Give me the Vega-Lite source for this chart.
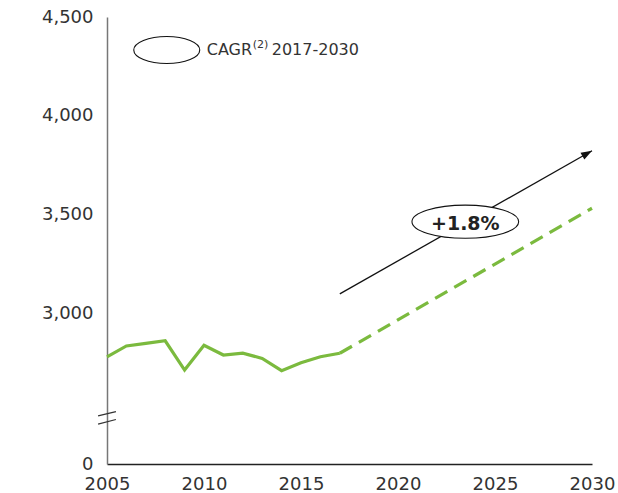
{
  "$schema": "https://vega.github.io/schema/vega-lite/v6.json",
  "autosize": "none",
  "width": 485,
  "height": 447,
  "padding": {"left": 107, "top": 17, "right": 26, "bottom": 29},
  "config": {"view": {"stroke": null}, "font": "DejaVu Sans"},
  "datasets": {
    "series": [
      {"year": 2005, "value": 2782, "type": "actual"},
      {"year": 2006, "value": 2837, "type": "actual"},
      {"year": 2007, "value": 2850, "type": "actual"},
      {"year": 2008, "value": 2863, "type": "actual"},
      {"year": 2009, "value": 2715, "type": "actual"},
      {"year": 2010, "value": 2840, "type": "actual"},
      {"year": 2011, "value": 2791, "type": "actual"},
      {"year": 2012, "value": 2800, "type": "actual"},
      {"year": 2013, "value": 2774, "type": "actual"},
      {"year": 2014, "value": 2712, "type": "actual"},
      {"year": 2015, "value": 2752, "type": "actual"},
      {"year": 2016, "value": 2782, "type": "actual"},
      {"year": 2017, "value": 2800, "type": "actual"},
      {"year": 2017, "value": 2800, "type": "forecast"},
      {"year": 2030, "value": 3533, "type": "forecast"}
    ],
    "arrow": [{"x": 2017, "y": 3100, "x2": 2030, "y2": 3824}],
    "breaks": [
      {"x": 2004.54, "y": 2483, "x2": 2005.46, "y2": 2505},
      {"x": 2004.54, "y": 2442, "x2": 2005.46, "y2": 2465}
    ],
    "labels": [
      {"x": 2023.47, "y": 3465, "kind": "cagr", "text": "+1.8%"},
      {"x": 2008.08, "y": 4333, "kind": "legend", "text": "CAGR"},
      {"x": 2008.08, "y": 4333, "kind": "sup", "text": "(2)"},
      {"x": 2008.08, "y": 4333, "kind": "period", "text": "2017-2030"}
    ]
  },
  "layer": [
    {
      "data": {"name": "series"},
      "transform": [{"filter": "datum.type == 'actual'"}],
      "mark": {"type": "line", "color": "#7bba3e", "strokeWidth": 3.2, "strokeJoin": "miter"},
      "encoding": {
        "x": {"field": "year", "type": "quantitative",
          "scale": {"domain": [2005, 2030], "nice": false, "zero": false},
          "axis": {"title": null, "values": [2005, 2010, 2015, 2020, 2025, 2030], "format": "d",
            "ticks": false, "grid": false, "labelFlush": false, "labelOverlap": false,
            "labelFontSize": 18, "labelColor": "#333333", "labelPadding": 11,
            "domainColor": "#222222", "domainWidth": 1.6}},
        "y": {"field": "value", "type": "quantitative",
          "scale": {"domain": [2240, 4500], "nice": false, "zero": false},
          "axis": {"title": null, "values": [2240, 3000, 3500, 4000, 4500],
            "labelExpr": "datum.value == 2240 ? '0' : format(datum.value, ',')",
            "ticks": false, "grid": false, "labelOverlap": false, "labelFlush": false,
            "labelFontSize": 18, "labelColor": "#333333", "labelPadding": 14,
            "domainColor": "#777777", "domainWidth": 1.5}}
      }
    },
    {
      "data": {"name": "series"},
      "transform": [{"filter": "datum.type == 'forecast'"}],
      "mark": {"type": "line", "color": "#7bba3e", "strokeWidth": 3.2, "strokeDash": [14, 8]},
      "encoding": {
        "x": {"field": "year", "type": "quantitative"},
        "y": {"field": "value", "type": "quantitative"}
      }
    },
    {
      "data": {"name": "breaks"},
      "mark": {"type": "rule", "color": "#333333", "strokeWidth": 1.2},
      "encoding": {
        "x": {"field": "x", "type": "quantitative"},
        "y": {"field": "y", "type": "quantitative"},
        "x2": {"field": "x2"},
        "y2": {"field": "y2"}
      }
    },
    {
      "data": {"name": "arrow"},
      "mark": {"type": "rule", "color": "#111111", "strokeWidth": 1.3},
      "encoding": {
        "x": {"field": "x", "type": "quantitative"},
        "y": {"field": "y", "type": "quantitative"},
        "x2": {"field": "x2"},
        "y2": {"field": "y2"}
      }
    },
    {
      "data": {"name": "arrow"},
      "mark": {"type": "point", "shape": "M0,0L0.72,2L-0.72,2Z", "size": 121, "angle": 60.4,
        "filled": true, "color": "#111111", "opacity": 1},
      "encoding": {
        "x": {"field": "x2", "type": "quantitative"},
        "y": {"field": "y2", "type": "quantitative"}
      }
    },
    {
      "data": {"name": "labels"},
      "transform": [{"filter": "datum.kind == 'cagr'"}],
      "mark": {"type": "point", "shape": "M-1,0A1,0.31,0,1,0,1,0A1,0.31,0,1,0,-1,0Z", "size": 11385,
        "fill": "white", "stroke": "#111111", "strokeWidth": 1.1, "opacity": 1},
      "encoding": {
        "x": {"field": "x", "type": "quantitative"},
        "y": {"field": "y", "type": "quantitative"}
      }
    },
    {
      "data": {"name": "labels"},
      "transform": [{"filter": "datum.kind == 'cagr'"}],
      "mark": {"type": "text", "fontSize": 19, "fontWeight": "bold", "color": "#222222", "align": "center", "baseline": "middle", "dy": 2},
      "encoding": {
        "x": {"field": "x", "type": "quantitative"},
        "y": {"field": "y", "type": "quantitative"},
        "text": {"field": "text"}
      }
    },
    {
      "data": {"name": "labels"},
      "transform": [{"filter": "datum.kind == 'legend'"}],
      "mark": {"type": "point", "shape": "M-1,0A1,0.41,0,1,0,1,0A1,0.41,0,1,0,-1,0Z", "size": 4356,
        "fill": "white", "stroke": "#111111", "strokeWidth": 1.1, "opacity": 1},
      "encoding": {
        "x": {"field": "x", "type": "quantitative"},
        "y": {"field": "y", "type": "quantitative"}
      }
    },
    {
      "data": {"name": "labels"},
      "transform": [{"filter": "datum.kind == 'legend'"}],
      "mark": {"type": "text", "fontSize": 16, "color": "#333333", "align": "left", "baseline": "middle", "dx": 40},
      "encoding": {
        "x": {"field": "x", "type": "quantitative"},
        "y": {"field": "y", "type": "quantitative"},
        "text": {"field": "text"}
      }
    },
    {
      "data": {"name": "labels"},
      "transform": [{"filter": "datum.kind == 'sup'"}],
      "mark": {"type": "text", "fontSize": 11, "color": "#333333", "align": "left", "baseline": "middle", "dx": 86, "dy": -5},
      "encoding": {
        "x": {"field": "x", "type": "quantitative"},
        "y": {"field": "y", "type": "quantitative"},
        "text": {"field": "text"}
      }
    },
    {
      "data": {"name": "labels"},
      "transform": [{"filter": "datum.kind == 'period'"}],
      "mark": {"type": "text", "fontSize": 16, "color": "#333333", "align": "left", "baseline": "middle", "dx": 105},
      "encoding": {
        "x": {"field": "x", "type": "quantitative"},
        "y": {"field": "y", "type": "quantitative"},
        "text": {"field": "text"}
      }
    }
  ]
}
